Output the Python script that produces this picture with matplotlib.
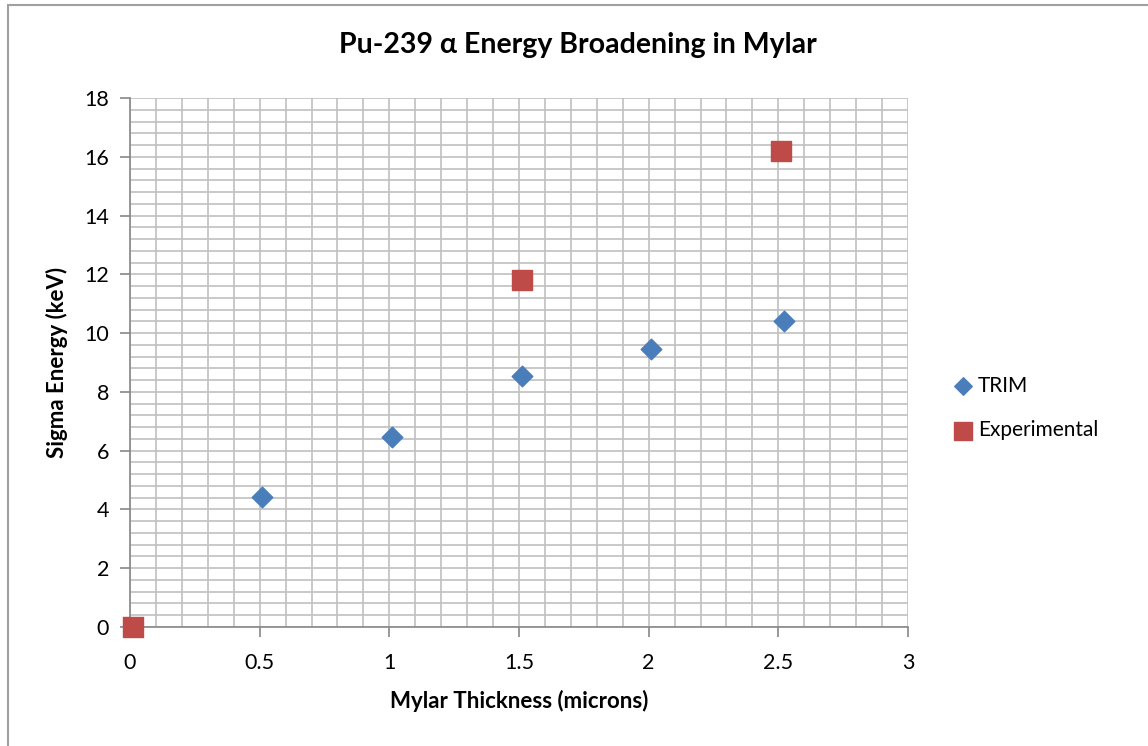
import matplotlib
matplotlib.use("Agg")
import matplotlib.pyplot as plt
from matplotlib.patches import Rectangle
from matplotlib.ticker import MultipleLocator

trim_x = [0.51, 1.01, 1.51, 2.01, 2.52]
trim_y = [4.42, 6.45, 8.55, 9.45, 10.4]
exp_x = [0.01, 1.51, 2.51]
exp_y = [0.0, 11.8, 16.2]
x_ticks = [0, 0.5, 1, 1.5, 2, 2.5, 3]
x_tick_labels = ['0', '0.5', '1', '1.5', '2', '2.5', '3']

plt.rcParams['font.family'] = ['Lato', 'DejaVu Sans']

fig = plt.figure(figsize=(11.48, 7.46), dpi=100)
fig.patches.append(Rectangle((8/1148, -0.01), 1.2, (746-5)/746 + 0.01, transform=fig.transFigure,
                             fill=False, edgecolor='#A0A0A0', linewidth=1.5))
ax = fig.add_axes([130/1148, (746-627)/746, (908-130)/1148, (627-98)/746])

ax.set_xlim(0, 3)
ax.set_ylim(0, 18)
ax.set_xticks(x_ticks)
ax.set_xticklabels(x_tick_labels)
ax.xaxis.set_minor_locator(MultipleLocator(0.1))
ax.yaxis.set_major_locator(MultipleLocator(2))
ax.yaxis.set_minor_locator(MultipleLocator(0.4))
ax.grid(True, which='both', color='#C0C0C0', linewidth=1.2)
ax.set_axisbelow(True)
for s in ['top', 'right']:
    ax.spines[s].set_visible(False)
for s in ['left', 'bottom']:
    ax.spines[s].set_color('#888888')
    ax.spines[s].set_linewidth(1.2)
ax.tick_params(which='major', length=7, width=1.2, color='#888888', labelsize=15.5)
ax.tick_params(axis='x', pad=12)
ax.tick_params(axis='y', pad=8)
ax.tick_params(which='minor', length=0)

ax.scatter(trim_x, trim_y, marker='D', s=110, color='#4A7EBB', label='TRIM', zorder=3, clip_on=False)
ax.scatter(exp_x, exp_y, marker='s', s=210, color='#BE4B48', label='Experimental', zorder=3, clip_on=False)

ax.set_xlabel('Mylar Thickness (microns)', fontsize=16, fontweight='bold', labelpad=12)
ax.set_ylabel('Sigma Energy (keV)', fontsize=16, fontweight='bold', labelpad=12)
fig.text(578/1148, (746-45)/746, 'Pu-239 α Energy Broadening in Mylar', fontsize=20.5,
         fontweight='bold', ha='center', va='center')

fig.legend(loc='center left', bbox_to_anchor=(950/1148, (746-408)/746), frameon=False,
           fontsize=15, labelspacing=1.2, handletextpad=0.15, markerscale=0.85,
           borderpad=0, borderaxespad=0, handlelength=1.2)

fig.savefig('out.png', dpi=100)
